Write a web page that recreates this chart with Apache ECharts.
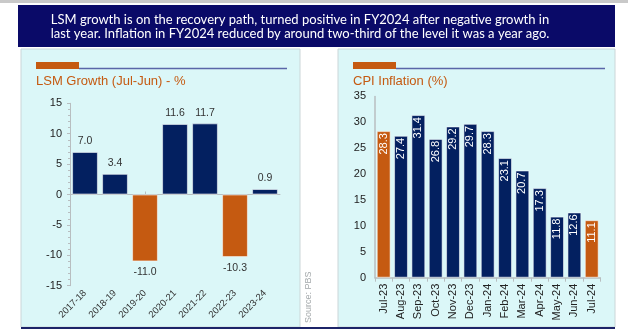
<!DOCTYPE html>
<html>
<head>
<meta charset="utf-8">
<script src="https://cdn.jsdelivr.net/npm/echarts@6/dist/echarts.min.js"></script>
<style>
  html, body { margin: 0; padding: 0; background: #ffffff; }
  #chart { width: 628px; height: 335px; }
</style>
</head>
<body>
<div id="chart"></div>
<script>
// Large-scale manufacturing growth by fiscal year (Jul-Jun), %
const lsmYears = ['2017-18', '2018-19', '2019-20', '2020-21', '2021-22', '2022-23', '2023-24'];
const lsmGrowth = [7.0, 3.4, -11.0, 11.6, 11.7, -10.3, 0.9];

// Monthly CPI inflation, % year-on-year
const cpiMonths = ['Jul-23', 'Aug-23', 'Sep-23', 'Oct-23', 'Nov-23', 'Dec-23', 'Jan-24',
                   'Feb-24', 'Mar-24', 'Apr-24', 'May-24', 'Jun-24', 'Jul-24'];
const cpiInflation = [28.3, 27.4, 31.4, 26.8, 29.2, 29.7, 28.3, 23.1, 20.7, 17.3, 11.8, 12.6, 11.1];
const cpiHighlighted = ['Jul-23', 'Jul-24'];

const lsmTicks = { min: -15, max: 15, interval: 5 };
const cpiTicks = { min: 0, max: 35, interval: 5 };

const headline = [
  'LSM growth is on the recovery path, turned positive in FY2024 after negative growth in',
  'last year. Inflation in FY2024 reduced by around two-third of the level it was a year ago.'
];

const NAVY = '#032060';
const ORANGE = '#C55A11';
const AXIS_GRAY = '#B8BEC0';
const FONT = '"Liberation Sans", Arial, sans-serif';
const HEAD_FONT = '13px Lato, "Open Sans", sans-serif';

const chart = echarts.init(document.getElementById('chart'), null, { renderer: 'canvas' });

function panel(x, w) {
  return {
    type: 'rect', shape: { x: x, y: 49, width: w, height: 278 },
    style: { fill: '#DBF7F8', stroke: '#CBD6D8', lineWidth: 1 }, z: -10
  };
}
function header(x, lineEnd, text) {
  return [
    { type: 'rect', shape: { x: x, y: 62, width: 43, height: 7 }, style: { fill: ORANGE }, z: -5 },
    { type: 'line', shape: { x1: x + 43, y1: 68.5, x2: lineEnd, y2: 68.5 },
      style: { stroke: '#5A66A8', lineWidth: 1.5 }, z: -5 },
    { type: 'text', x: x, y: 81,
      style: { text: text, fill: ORANGE, font: '13px ' + FONT, textVerticalAlign: 'middle' }, z: -5 }
  ];
}

const graphics = [
  { type: 'rect', shape: { x: 0, y: 0, width: 628, height: 3 }, style: { fill: '#C9C9C9' }, z: -10 },
  { type: 'rect', shape: { x: 18, y: 5, width: 597, height: 42 }, style: { fill: '#0A0A68' }, z: -10 },
  { type: 'text', x: 300, y: 20,
    style: { text: headline[0], fill: '#ffffff', font: HEAD_FONT,
             textAlign: 'center', textVerticalAlign: 'middle' } },
  { type: 'text', x: 300, y: 34,
    style: { text: headline[1], fill: '#ffffff', font: HEAD_FONT,
             textAlign: 'center', textVerticalAlign: 'middle' } },
  panel(21, 279),
  panel(338, 277),
  { type: 'line', shape: { x1: 21, y1: 328, x2: 615, y2: 328 },
    style: { stroke: '#1C2468', lineWidth: 2 }, z: -5 },
  { type: 'text', x: 309, y: 323, rotation: Math.PI / 2,
    style: { text: 'Source: PBS', fill: '#A3A8AA', font: '9px ' + FONT,
             textAlign: 'left', textVerticalAlign: 'middle' } }
].concat(header(36, 287, 'LSM Growth (Jul-Jun) - %'))
 .concat(header(353, 605, 'CPI Inflation (%)'));

const option = {
  animation: false,
  textStyle: { fontFamily: FONT },
  graphic: graphics,
  grid: [
    { left: 70, top: 103.3, width: 210, height: 182.4 },
    { left: 375, top: 96.4, width: 225.4, height: 181.3 }
  ],
  xAxis: [
    {
      // zero line of the LSM panel
      type: 'category', gridIndex: 0, data: lsmYears,
      axisLine: { onZero: true, lineStyle: { color: AXIS_GRAY, width: 1 } },
      axisTick: { show: true, alignWithLabel: true, inside: true, length: 3, lineStyle: { color: AXIS_GRAY } },
      axisLabel: { show: false }
    },
    {
      // year labels along the bottom of the LSM panel
      type: 'category', gridIndex: 0, data: lsmYears, position: 'bottom',
      axisLine: { show: false, onZero: false },
      axisTick: { show: false },
      axisLabel: { rotate: 45, fontSize: 9.5, color: '#333', margin: 6 }
    },
    {
      type: 'category', gridIndex: 1, data: cpiMonths,
      axisLine: { lineStyle: { color: AXIS_GRAY, width: 1.5 } },
      axisTick: { show: true, length: 4, lineStyle: { color: AXIS_GRAY } },
      axisLabel: { rotate: 90, fontSize: 11, color: '#222', margin: 6 }
    }
  ],
  yAxis: [
    {
      type: 'value', gridIndex: 0, min: lsmTicks.min, max: lsmTicks.max, interval: lsmTicks.interval,
      axisLine: { show: true, lineStyle: { color: AXIS_GRAY } },
      axisTick: { show: true, length: 3, lineStyle: { color: AXIS_GRAY } },
      minorTick: { show: true, splitNumber: 5, length: 2, lineStyle: { color: AXIS_GRAY } },
      splitLine: { show: false },
      axisLabel: { fontSize: 11, color: '#222', margin: 8 }
    },
    {
      type: 'value', gridIndex: 1, min: cpiTicks.min, max: cpiTicks.max, interval: cpiTicks.interval,
      axisLine: { show: true, lineStyle: { color: AXIS_GRAY, width: 1.5 } },
      axisTick: { show: false },
      splitLine: { show: false },
      axisLabel: { fontSize: 11, color: '#222', margin: 9 }
    }
  ],
  series: [
    {
      type: 'bar', xAxisIndex: 0, yAxisIndex: 0, barCategoryGap: '14%',
      data: lsmGrowth.map(v => ({
        value: v,
        itemStyle: { color: v < 0 ? ORANGE : NAVY },
        label: { position: v < 0 ? 'bottom' : 'top' }
      })),
      itemStyle: { borderColor: 'rgba(255,255,255,0.55)', borderWidth: 1 },
      label: {
        show: true, fontSize: 10.5, color: '#333', distance: 5,
        formatter: p => p.value.toFixed(1)
      }
    },
    {
      type: 'bar', xAxisIndex: 2, yAxisIndex: 1, barCategoryGap: '20%',
      data: cpiInflation.map((v, i) => ({
        value: v,
        itemStyle: { color: cpiHighlighted.includes(cpiMonths[i]) ? ORANGE : NAVY }
      })),
      itemStyle: { borderColor: 'rgba(255,255,255,0.55)', borderWidth: 1 },
      label: {
        show: true, position: 'insideTop', rotate: 90, align: 'right', verticalAlign: 'middle',
        distance: 2, fontSize: 11, color: '#ffffff',
        formatter: p => p.value.toFixed(1)
      }
    }
  ]
};

chart.setOption(option);
</script>
</body>
</html>
